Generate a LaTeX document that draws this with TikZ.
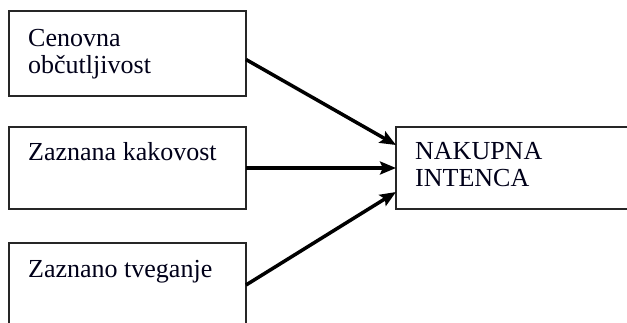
\documentclass[tikz,border=0pt]{standalone}
\usepackage{fontspec}
\setmainfont{Liberation Serif}
\usetikzlibrary{arrows.meta}
\tikzset{
  box/.style={draw=black!85, line width=1.3pt, fill=white, inner sep=0pt, outer sep=0pt, anchor=north west},
  lbl/.style={anchor=base west, inner sep=0pt, font=\fontsize{26}{27}\selectfont, text=black!90!blue},
  arr/.style={line width=3.5pt, -{Stealth[length=16pt,width=13pt,inset=3pt]}}
}
\begin{document}
\begin{tikzpicture}[x=1pt,y=-1pt]
\useasboundingbox (0,0) rectangle (627,322);
\clip (0,0) rectangle (627,322);
\fill[white] (0,0) rectangle (627,322);
\node[box, minimum width=237pt, minimum height=85pt] (b1) at (9,11) {};
\node[box, minimum width=237pt, minimum height=82pt] (b2) at (9,127) {};
\node[box, minimum width=237pt, minimum height=120pt] (b3) at (9,243) {};
\node[box, minimum width=260pt, minimum height=82pt] (b4) at (396,127) {};
\node[lbl] (t1a) at (28,46) {Cenovna};
\node[lbl] (t1b) at (28,73) {občutljivost};
\node[lbl] (t2) at (28,160) {Zaznana kakovost};
\node[lbl] (t3) at (28,277) {Zaznano tveganje};
\node[lbl] (t4a) at (415,159) {NAKUPNA};
\node[lbl] (t4b) at (415,186) {INTENCA};
\draw[arr] ([yshift=-6pt]b1.east) -- ([yshift=23pt]b4.west);
\draw[arr] (b2.east) -- (b4.west);
\draw[arr] ([yshift=-42pt]b3.north east) -- ([yshift=-24pt]b4.west);
\end{tikzpicture}
\end{document}
